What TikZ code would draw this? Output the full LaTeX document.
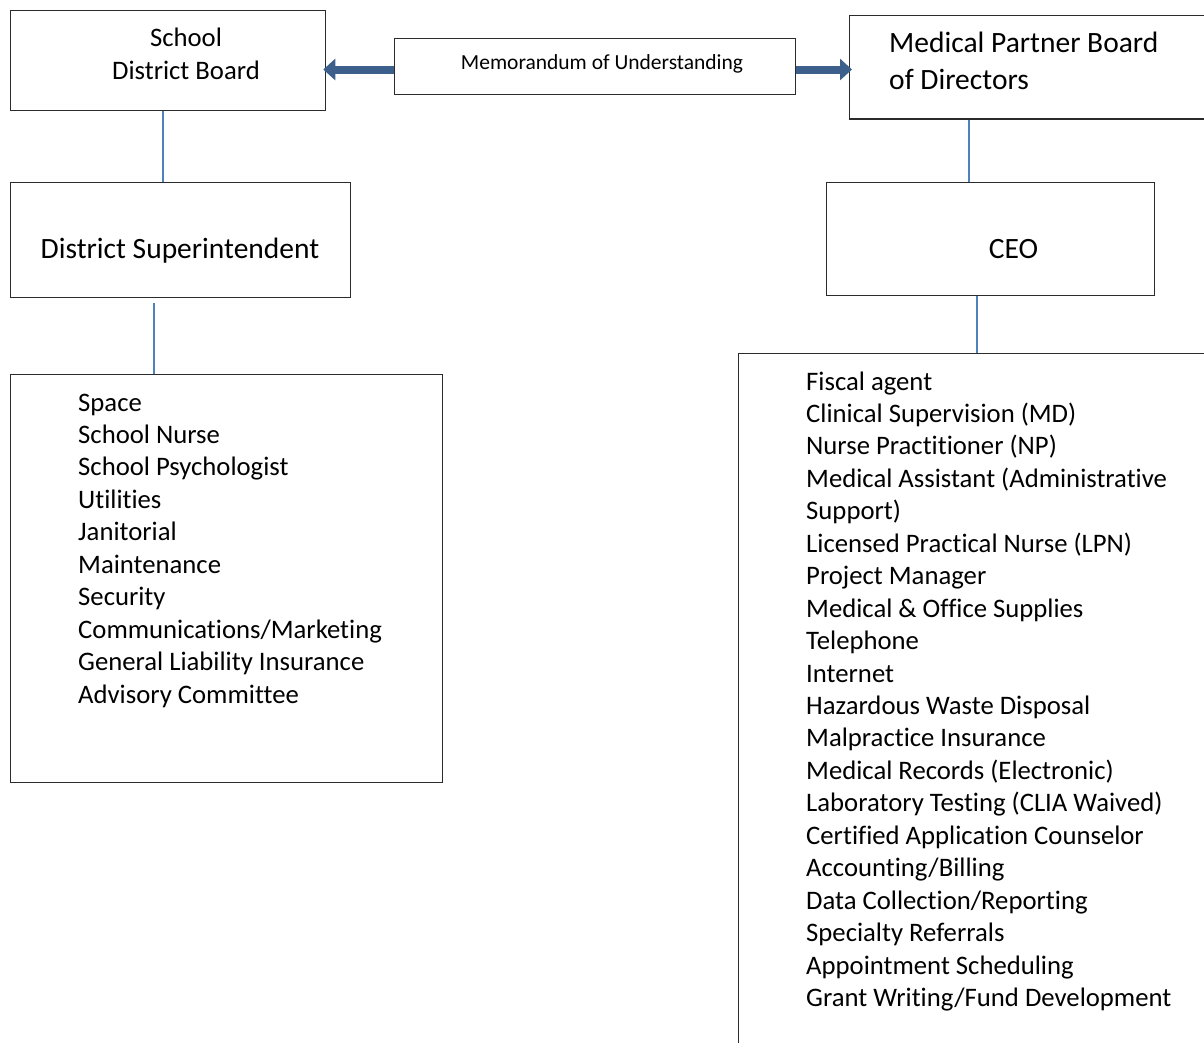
\documentclass[tikz,border=0pt]{standalone}
\usepackage{fontspec}
\setmainfont{Carlito}[Ligatures={NoCommon}]
\usetikzlibrary{arrows.meta,calc}
\definecolor{fatblue}{HTML}{3C5F8C}
\definecolor{linkblue}{HTML}{4F81BD}
\definecolor{edgegray}{HTML}{2B2B2B}
\begin{document}
\begin{tikzpicture}[x=1pt,y=-1pt,
  box/.style={draw=edgegray,line width=1.3pt,anchor=north west,inner sep=0pt},
  link/.style={draw=linkblue,line width=1.6pt},
  fat/.style={draw=fatblue,line width=8pt,shorten >=-3pt,-{Triangle[length=12pt,width=21pt]}},
  txt/.style={inner sep=0pt,font=\fontsize{26.7}{32.45}\selectfont},
  bigtxt/.style={inner sep=0pt,font=\fontsize{29.5}{37}\selectfont},
  smalltxt/.style={inner sep=0pt,font=\fontsize{21.5}{26}\selectfont}]
\useasboundingbox (0,0) rectangle (1204,1042);
\clip (0,0) rectangle (1204,1042);

% boxes
\node[box,minimum width=315pt,minimum height=100pt] (sdb) at (10,10) {};
\node[box,minimum width=401pt,minimum height=56pt] (memo) at (394,38) {};
\node[box,minimum width=400pt,minimum height=103.5pt] (med) at (849,14.7) {};
\node[box,minimum width=340pt,minimum height=115pt] (sup) at (10,182) {};
\node[box,minimum width=328pt,minimum height=113pt] (ceo) at (826,182) {};
\node[box,minimum width=432pt,minimum height=408pt] (llist) at (10,374) {};
\node[box,minimum width=520pt,minimum height=720pt] (rlist) at (738,353) {};

% box labels
\node[txt,anchor=base] (sdbA) at (186,46) {School};
\node[txt,anchor=base] (sdbB) at (186,79) {District Board};
\node[smalltxt,anchor=base] (memoT) at (602,69) {Memorandum of Understanding};
\node[bigtxt,anchor=base west] (medA) at (889,52.5) {Medical Partner Board};
\node[bigtxt,anchor=base west] (medB) at (889,89.5) {of Directors};
\node[bigtxt,anchor=base] (supT) at (180,258) {District Superintendent};
\node[bigtxt,anchor=base] (ceoT) at (1013.5,258) {CEO};

% lists of responsibilities
\foreach [count=\k] \t in {Space,{School Nurse},{School Psychologist},Utilities,
    Janitorial,Maintenance,Security,{Communications/Marketing},
    {General Liability Insurance},{Advisory Committee}}
  \node[txt,anchor=base west] (l\k) at (78,{411+(\k-1)*32.45}) {\t};
\foreach [count=\k] \t in {{Fiscal agent},{Clinical Supervision (MD)},
    {Nurse Practitioner (NP)},{Medical Assistant (Administrative},{Support)},
    {Licensed Practical Nurse (LPN)},{Project Manager},
    {Medical \& Office Supplies},Telephone,Internet,
    {Hazardous Waste Disposal},{Malpractice Insurance},
    {Medical Records (Electronic)},{Laboratory Testing (CLIA Waived)},
    {Certified Application Counselor},{Accounting/Billing},
    {Data Collection/Reporting},{Specialty Referrals},
    {Appointment Scheduling},{Grant Writing/Fund Development}}
  \node[txt,anchor=base west] (r\k) at (806,{390+(\k-1)*32.45}) {\t};

% connectors
\coordinate (xa) at (163,0);
\coordinate (xb) at (154,0);
\coordinate (xc) at (969,0);
\coordinate (xd) at (977,0);
\coordinate (ya) at (0,69.5);
\draw[link] (sdb.south -| xa) -- (sup.north -| xa);
\draw[link] ($(sup.south -| xb)+(0,5)$) -- (llist.north -| xb);
\draw[link] (med.south -| xc) -- (ceo.north -| xc);
\draw[link] (ceo.south -| xd) -- (rlist.north -| xd);

% memorandum arrows
\draw[fat] (memo.west |- ya) -- (sdb.east |- ya);
\draw[fat] (memo.east |- ya) -- (med.west |- ya);
\end{tikzpicture}
\end{document}
